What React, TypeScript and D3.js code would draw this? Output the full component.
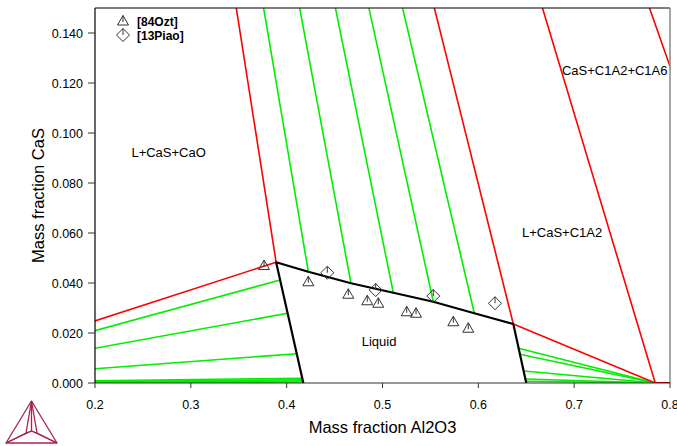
import React from "react";
import * as d3 from "d3";

// ---- data (mass fractions) ----
const xTicks = [0.2, 0.3, 0.4, 0.5, 0.6, 0.7, 0.8];
const yTicks = [0, 0.02, 0.04, 0.06, 0.08, 0.1, 0.12, 0.14];

// solid phase compositions [Al2O3, CaS]
const CaO: [number, number] = [0, 0];
const CaS: [number, number] = [0, 1];
const C1A2: [number, number] = [0.7846, 0];
const C1A6: [number, number] = [0.916, 0];

// liquidus boundary points
const liquidTop: [number, number][] = [
  [0.389, 0.0483], [0.4226, 0.0445], [0.4671, 0.0399], [0.5113, 0.0361],
  [0.553, 0.0325], [0.5958, 0.0279], [0.6365, 0.0236],
];
const liquidLeft: [number, number][] = [
  [0.389, 0.0483], [0.4174, 0],
];
const liquidRight: [number, number][] = [
  [0.6365, 0.0236], [0.65, 0],
];

// tie-line liquid ends
const tiesCaS: [number, number][] = liquidTop.slice(1, 6);
const tiesCaO: [number, number][] = [
  [0.3932, 0.0412], [0.401, 0.0279], [0.4105, 0.0117],
  [0.4163, 0.0019], [0.4166, 0.0013], [0.4169, 0.0008], [0.4172, 0.0004],
];
const tiesC1A2: [number, number][] = [
  [0.642, 0.0139], [0.6434, 0.0115], [0.6473, 0.0048],
  [0.6491, 0.0016], [0.6496, 0.0007],
];

// experimental points
const ozt84: [number, number][] = [
  [0.3764, 0.047], [0.4226, 0.0405], [0.4643, 0.0355], [0.4841, 0.0329],
  [0.4956, 0.0319], [0.5253, 0.0285], [0.535, 0.0279], [0.5739, 0.0245],
  [0.5895, 0.0219],
];
const piao13: [number, number][] = [
  [0.4424, 0.0441], [0.4929, 0.0372], [0.553, 0.0348], [0.6174, 0.0319],
];

const regionLabels = [
  { text: "L+CaS+CaO", x: 0.238, y: 0.0905 },
  { text: "L+CaS+C1A2", x: 0.6455, y: 0.0585 },
  { text: "CaS+C1A2+C1A6", x: 0.6873, y: 0.1232 },
  { text: "Liquid", x: 0.4783, y: 0.0148 },
];

const W = 677, H = 446;
const L = 95, R = 670, T = 8, B = 383;
const FONT = "'Liberation Sans', Arial, sans-serif";

export default function App() {
  const x = d3.scaleLinear().domain([0.2, 0.8]).range([L, R]);
  const y = d3.scaleLinear().domain([0, 0.15]).range([B, T]);
  const line = d3.line<[number, number]>().x((d) => x(d[0])).y((d) => y(d[1]));
  const seg = (a: [number, number], b: [number, number]) => line([a, b]) as string;

  const liquidPath = line([
    ...liquidLeft.slice().reverse(),
    ...liquidTop.slice(1),
    ...liquidRight.slice(1),
  ]) as string;

  const tri = (cx: number, cy: number, k: string) => (
    <g key={k} fill="none" stroke="#333" strokeWidth={1}>
      <path d={`M${cx},${cy - 5.5}L${cx + 5.5},${cy + 4}L${cx - 5.5},${cy + 4}Z`} />
      <path d={`M${cx},${cy - 5.5}L${cx},${cy + 1}`} />
    </g>
  );
  const dia = (cx: number, cy: number, k: string) => (
    <g key={k} fill="none" stroke="#333" strokeWidth={1}>
      <path d={`M${cx},${cy - 6.5}L${cx + 6.5},${cy}L${cx},${cy + 6.5}L${cx - 6.5},${cy}Z`} />
      <path d={`M${cx},${cy - 6.5}L${cx},${cy}`} />
    </g>
  );

  return (
    <svg width={W} height={H} style={{ position: "absolute", left: 0, top: 0, display: "block", background: "#fff" }}>
      <defs>
        <clipPath id="plot">
          <rect x={L} y={T} width={R - L} height={B - T} />
        </clipPath>
      </defs>
      <g clipPath="url(#plot)" fill="none" strokeLinecap="round">
        {tiesCaS.map((p, i) => (
          <path key={"gs" + i} d={seg(p, CaS)} stroke="#00ee00" strokeWidth={1.6} />
        ))}
        {tiesCaO.map((p, i) => (
          <path key={"go" + i} d={seg(p, CaO)} stroke="#00ee00" strokeWidth={1.6} />
        ))}
        {tiesC1A2.map((p, i) => (
          <path key={"ga" + i} d={seg(p, C1A2)} stroke="#00ee00" strokeWidth={1.6} />
        ))}
        <path d={seg(liquidTop[0], CaS)} stroke="#ff0000" strokeWidth={1.6} />
        <path d={seg(liquidTop[0], CaO)} stroke="#ff0000" strokeWidth={1.6} />
        <path d={seg(liquidTop[6], CaS)} stroke="#ff0000" strokeWidth={1.6} />
        <path d={seg(liquidTop[6], C1A2)} stroke="#ff0000" strokeWidth={1.6} />
        <path d={seg(C1A2, CaS)} stroke="#ff0000" strokeWidth={1.6} />
        <path d={seg(C1A6, CaS)} stroke="#ff0000" strokeWidth={1.6} />
        <path d={liquidPath} stroke="#000" strokeWidth={2.2} strokeLinejoin="round" />
      </g>

      {ozt84.map((p, i) => tri(x(p[0]), y(p[1]), "t" + i))}
      {piao13.map((p, i) => dia(x(p[0]), y(p[1]), "d" + i))}

      {/* frame */}
      <line x1={L} x2={R} y1={T} y2={T} stroke="#000" strokeWidth={1.2} />
      <line x1={R} x2={R} y1={T} y2={B} stroke="#888" strokeWidth={1.5} />
      <line x1={L} x2={L} y1={T} y2={B} stroke="#000" strokeWidth={1.2} />
      <line x1={L} x2={R} y1={B} y2={B} stroke="#333" strokeWidth={1.2} />
      <path d={seg(C1A2, C1A6)} clipPath="url(#plot)" stroke="#8b0000" strokeWidth={2} />

      {/* axes ticks */}
      {xTicks.map((t) => (
        <g key={"xt" + t}>
          <line x1={x(t)} x2={x(t)} y1={B} y2={B + 5} stroke="#333" />
          <text x={x(t)} y={B + 26} textAnchor="middle" fontFamily={FONT} fontSize={12.5} fill="#000">
            {d3.format(".1f")(t)}
          </text>
        </g>
      ))}
      {yTicks.map((t) => (
        <g key={"yt" + t}>
          <line x1={L - 7} x2={L} y1={y(t)} y2={y(t)} stroke="#333" />
          <text x={L - 12} y={y(t) + 4.5} textAnchor="end" fontFamily={FONT} fontSize={12.5} fill="#000">
            {d3.format(".3f")(t)}
          </text>
        </g>
      ))}
      <text x={(L + R) / 2} y={433} textAnchor="middle" fontFamily={FONT} fontSize={16.5} fill="#000">
        Mass fraction Al2O3
      </text>
      <text transform={`translate(43.5,${(T + B) / 2}) rotate(-90)`} textAnchor="middle" fontFamily={FONT} fontSize={16.5} fill="#000">
        Mass fraction CaS
      </text>

      {/* region labels */}
      {regionLabels.map((r) => (
        <text key={r.text} x={x(r.x)} y={y(r.y)} fontFamily={FONT} fontSize={13} fill="#000">
          {r.text}
        </text>
      ))}

      {/* legend */}
      {tri(123, 21, "lt")}
      {dia(123, 35, "ld")}
      <text x={137} y={26} fontFamily={FONT} fontSize={12} fontWeight="bold" fill="#000">[84Ozt]</text>
      <text x={137} y={39.5} fontFamily={FONT} fontSize={12} fontWeight="bold" fill="#000">[13Piao]</text>

      {/* logo */}
      <g fill="none" stroke="#a8234a" strokeWidth={1.3} strokeLinejoin="round">
        <path d="M31.5,401L57,443L6,443Z" />
        <path d="M31.5,401L31.5,431M6,443L31.5,431M57,443L31.5,431" />
        <path d="M31.5,401L26,433L6,443M31.5,401L37,433L57,443M26,433L31.5,431L37,433" />
      </g>
    </svg>
  );
}
